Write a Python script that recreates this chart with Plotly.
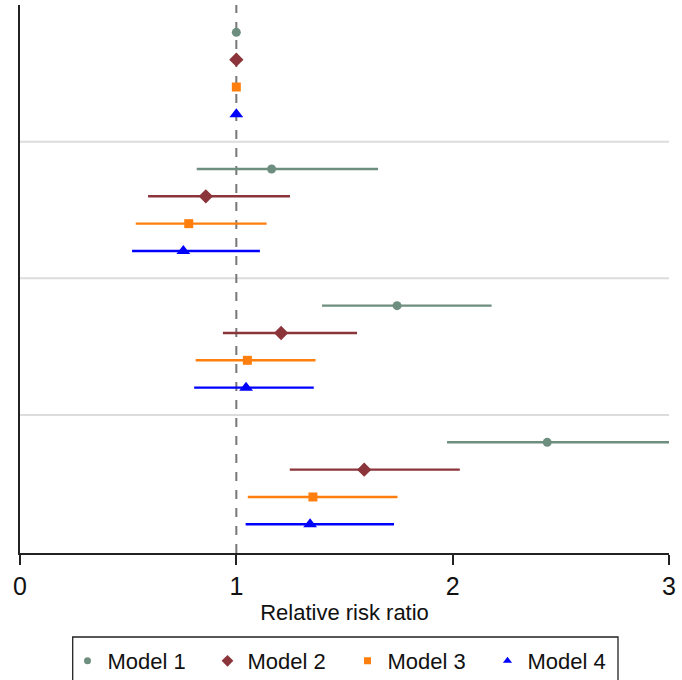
import plotly.graph_objects as go

models = ["Model 1", "Model 2", "Model 3", "Model 4"]
colors = ["#6e8e80", "#8b3439", "#ff7f0e", "#0000ff"]
symbols = ["circle", "diamond", "square", "triangle-up"]
sizes = [9, 11, 9, 12]
legend_sizes = [7, 9, 7, 8]

# point estimates per group (4 groups), per model
est_m1 = [1.0, 1.163, 1.743, 2.437]
est_m2 = [1.0, 0.859, 1.207, 1.591]
est_m3 = [1.0, 0.780, 1.051, 1.354]
est_m4 = [1.0, 0.755, 1.045, 1.341]

lo_m1 = [1.0, 0.817, 1.396, 1.974]
lo_m2 = [1.0, 0.592, 0.938, 1.247]
lo_m3 = [1.0, 0.535, 0.812, 1.053]
lo_m4 = [1.0, 0.518, 0.805, 1.043]

hi_m1 = [1.0, 1.655, 2.180, 3.050]
hi_m2 = [1.0, 1.248, 1.558, 2.033]
hi_m3 = [1.0, 1.140, 1.366, 1.745]
hi_m4 = [1.0, 1.109, 1.358, 1.729]

ests = [est_m1, est_m2, est_m3, est_m4]
los = [lo_m1, lo_m2, lo_m3, lo_m4]
his = [hi_m1, hi_m2, hi_m3, hi_m4]

n_groups = 4
fig = go.Figure()

for m in range(4):
    ys = [g * 5 + m for g in range(n_groups)]
    e = ests[m]
    fig.add_trace(go.Scatter(
        x=e, y=ys, mode="markers", name=models[m], showlegend=False,
        marker=dict(color=colors[m], symbol=symbols[m], size=sizes[m]),
        error_x=dict(type="data", symmetric=False,
                     array=[h - v for h, v in zip(his[m], e)],
                     arrayminus=[v - l for v, l in zip(e, los[m])],
                     color=colors[m], thickness=2.4, width=0),
    ))

# legend entries (smaller symbols, as in the reference legend)
for m in range(4):
    fig.add_trace(go.Scatter(
        x=[None], y=[None], mode="markers", name=models[m],
        marker=dict(color=colors[m], symbol=symbols[m], size=legend_sizes[m]),
    ))

W, H = 682, 680
ml, mr, mt, mb = 20, 13, 5, 127
pw, ph = W - ml - mr, H - mt - mb

def px_x(p):
    return (p - ml) / pw

def px_y(p):
    return (H - mb - p) / ph

shapes = []
for g in range(1, n_groups):
    yy = g * 5 - 1
    shapes.append(dict(type="line", xref="paper", x0=0, x1=1, yref="y", y0=yy, y1=yy,
                       line=dict(color="#dcdcdc", width=2), layer="below"))
shapes.append(dict(type="line", xref="x", x0=1, x1=1, yref="paper", y0=0, y1=1,
                   line=dict(color="#777777", width=2, dash="dash"), layer="below"))
# legend frame (bottom edge runs off the page, as in the reference)
shapes.append(dict(type="rect", xref="paper", yref="paper",
                   x0=px_x(72.7), x1=px_x(618), y0=px_y(690), y1=px_y(637),
                   line=dict(color="#222222", width=1.3), fillcolor="rgba(0,0,0,0)"))

fig.update_layout(
    width=W, height=H,
    margin=dict(l=ml, r=mr, t=mt, b=mb, autoexpand=False),
    paper_bgcolor="white", plot_bgcolor="white",
    font=dict(family="Liberation Sans, Arial, sans-serif", color="#111111"),
    shapes=shapes,
    showlegend=True,
    legend=dict(orientation="h", x=px_x(67.5), xanchor="left", y=px_y(640), yanchor="top",
                borderwidth=0, font=dict(size=22), bgcolor="rgba(0,0,0,0)",
                traceorder="normal", entrywidth=95, entrywidthmode="pixels"),
    xaxis=dict(range=[0, 3], tickvals=[0, 1, 2, 3], ticktext=["0", "1", "2", "3"],
               showgrid=False, zeroline=False, showline=True, linecolor="#222222",
               linewidth=1.5, ticks="outside", ticklen=10, tickcolor="#222222",
               tickwidth=1.5, tickfont=dict(size=25), automargin=False,
               ticklabeloverflow="allow",
               title=dict(text="Relative risk ratio", font=dict(size=22), standoff=6)),
    yaxis=dict(range=[19.05, -1], showgrid=False, zeroline=False, showline=True,
               linecolor="#222222", linewidth=1.5, showticklabels=False, ticks="",
               automargin=False),
)

fig.write_html("out.html", config={"displayModeBar": False},
               post_script="document.body.style.margin='0';document.body.style.overflow='hidden';")
